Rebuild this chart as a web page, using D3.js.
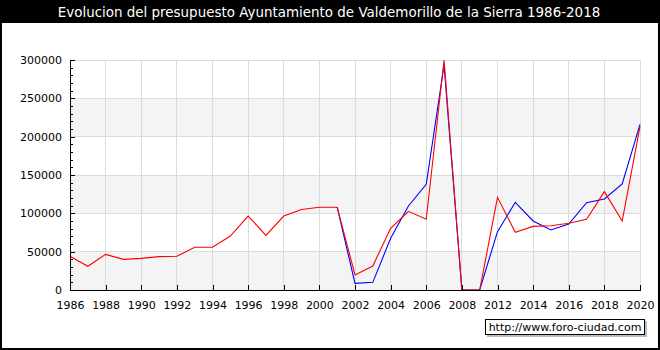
<!DOCTYPE html>
<html>
<head>
<meta charset="utf-8">
<script src="https://cdn.jsdelivr.net/npm/d3@7"></script>
<style>
  body { margin: 0; background: #fff; }
  svg { display: block; font-family: "DejaVu Sans", Verdana, sans-serif; }
</style>
</head>
<body>
<div id="chart"></div>
<script>
// years on the category axis (2009 and 2011 are not in the source)
var years = [1986, 1987, 1988, 1989, 1990, 1991, 1992, 1993, 1994, 1995, 1996, 1997,
  1998, 1999, 2000, 2001, 2002, 2003, 2004, 2005, 2006, 2007, 2008, 2010,
  2012, 2013, 2014, 2015, 2016, 2017, 2018, 2019, 2020];

// red series
var redValues = [44000, 31000, 46500, 40000, 41300, 43500, 44000, 55700, 55700, 70400, 96500, 71300,
  96500, 105000, 108000, 108000, 19600, 31300, 80400, 102600, 92200, 300000, 0, 0,
  120900, 75200, 83000, 83900, 87000, 92200, 128300, 90000, 213000];

// blue series (starts in 2001)
var blueValues = [null, null, null, null, null, null, null, null, null, null, null, null,
  null, null, null, 108000, 8700, 10000, 67400, 109600, 137800, 293500, 0, 0,
  76100, 114400, 90000, 78300, 86100, 113900, 118700, 138300, 216000];

var yTicks = [0, 50000, 100000, 150000, 200000, 250000, 300000];
var title = "Evolucion del presupuesto Ayuntamiento de Valdemorillo de la Sierra 1986-2018";

(function() {
  'use strict';
  var W = 660, H = 350;
  var mLeft = 70, mRight = 640, mTop = 60, mBottom = 290;

  var svg = d3.select("#chart").append("svg")
    .attr("width", W)
    .attr("height", H);

  // frame + title bar
  svg.append("rect").attr("x", 0).attr("y", 0).attr("width", W).attr("height", H).attr("fill", "#000");
  svg.append("rect").attr("x", 2).attr("y", 23).attr("width", W - 4).attr("height", H - 25).attr("fill", "#fff");
  svg.append("text")
    .attr("x", W / 2 - 1).attr("y", 17)
    .attr("text-anchor", "middle")
    .attr("font-size", "13.45px")
    .attr("fill", "#fff")
    .text(title);

  var x = d3.scalePoint()
    .domain(d3.range(years.length))
    .range([mLeft, mRight]);

  var y = d3.scaleLinear()
    .domain([0, 300000])
    .range([mBottom, mTop]);

  // alternating bands
  var bands = svg.append("g");
  for (var b = 0; b < yTicks.length - 1; b += 2) {
    bands.append("rect")
      .attr("x", mLeft)
      .attr("y", y(yTicks[b + 1]))
      .attr("width", mRight - mLeft)
      .attr("height", y(yTicks[b]) - y(yTicks[b + 1]))
      .attr("fill", "#f4f4f4");
  }

  var labelIdx = d3.range(years.length).filter(function(i) { return i % 2 === 0; });

  // grid
  var grid = svg.append("g").attr("stroke", "#dcdcdc").attr("shape-rendering", "crispEdges");
  grid.selectAll(".hg")
    .data(yTicks.slice(1))
    .enter().append("line")
    .attr("x1", mLeft).attr("x2", mRight)
    .attr("y1", function(d) { return y(d); })
    .attr("y2", function(d) { return y(d); });
  grid.selectAll(".vg")
    .data(labelIdx.slice(1))
    .enter().append("line")
    .attr("x1", function(d) { return x(d); })
    .attr("x2", function(d) { return x(d); })
    .attr("y1", mTop).attr("y2", mBottom);

  // series
  var line = d3.line()
    .defined(function(d) { return d != null; })
    .x(function(d, i) { return x(i); })
    .y(function(d) { return y(d); });

  svg.append("path")
    .datum(blueValues)
    .attr("d", line)
    .attr("fill", "none")
    .attr("stroke", "#0000ff")
    .attr("stroke-width", 1.1);

  svg.append("path")
    .datum(redValues)
    .attr("d", line)
    .attr("fill", "none")
    .attr("stroke", "#ff0000")
    .attr("stroke-width", 1.1);

  // axes
  var yAxis = d3.axisLeft(y)
    .tickValues(yTicks)
    .tickSizeInner(-5)
    .tickSizeOuter(0)
    .tickPadding(8)
    .tickFormat(d3.format("d"));
  var yMinor = d3.axisLeft(y)
    .tickValues(d3.range(0, 300001, 10000))
    .tickSizeInner(-3)
    .tickSizeOuter(0)
    .tickFormat("");

  var xAxis = d3.axisBottom(x)
    .tickValues(labelIdx)
    .tickSizeInner(-5)
    .tickSizeOuter(0)
    .tickPadding(11)
    .tickFormat(function(i) { return years[i]; });

  svg.append("g").attr("transform", "translate(" + mLeft + ",0)").call(yMinor);
  svg.append("g").attr("transform", "translate(" + mLeft + ",0)").call(yAxis);
  svg.append("g").attr("transform", "translate(0," + mBottom + ")").call(xAxis);

  svg.selectAll("g").filter(function() { return this.getAttribute("font-family"); })
    .attr("font-family", null).attr("font-size", "11px");
  svg.selectAll(".tick text").attr("fill", "#000");
  svg.selectAll(".tick line, .domain").attr("stroke", "#000").attr("shape-rendering", "crispEdges");

  // watermark
  var wm = svg.append("g");
  wm.append("rect").attr("x", 487).attr("y", 321).attr("width", 160).attr("height", 16).attr("fill", "#bbb");
  wm.append("rect").attr("x", 485.5).attr("y", 319.5).attr("width", 159).attr("height", 15)
    .attr("fill", "#fff").attr("stroke", "#000");
  wm.append("text")
    .attr("x", 565).attr("y", 331)
    .attr("text-anchor", "middle")
    .attr("font-size", "11px")
    .text("http://www.foro-ciudad.com");
})();
</script>
</body>
</html>
